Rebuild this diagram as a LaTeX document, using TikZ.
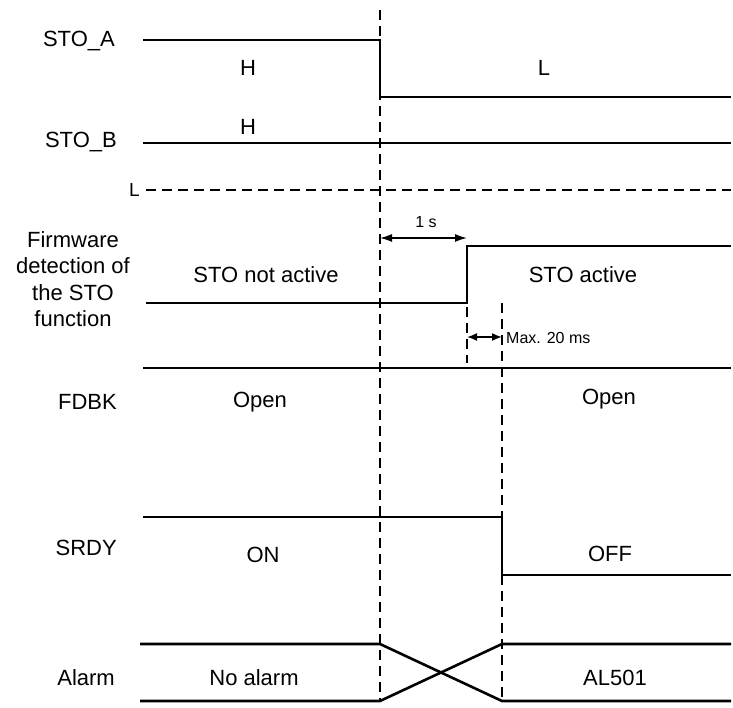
\documentclass[tikz,border=0pt]{standalone}
\usepackage{fontspec}
\setmainfont{Liberation Sans}
\usetikzlibrary{arrows.meta,positioning}
\definecolor{Ink}{HTML}{000000}
\tikzset{
  sigName/.style={anchor=base east,font=\fontsize{22}{26}\selectfont,text=Ink,inner sep=0pt},
  sigState/.style={anchor=base,font=\fontsize{22}{26}\selectfont,text=Ink,inner sep=0pt},
  sigNote/.style={anchor=base,font=\fontsize{16}{19}\selectfont,text=Ink,inner sep=0pt},
  levelName/.style={anchor=base east,font=\fontsize{19}{22}\selectfont,text=Ink,inner sep=0pt},
  wave/.style={draw=Ink,line width=2.6pt,line join=miter},
  timeMark/.style={draw=Ink,line width=1.1pt,dash pattern=on 10pt off 6pt},
  levelMark/.style={draw=Ink,line width=1.4pt,dash pattern=on 10pt off 6pt},
  timeSpan/.style={{Latex[length=12pt,width=8pt]}-{Latex[length=12pt,width=8pt]},draw=Ink,line width=1.6pt},
  shortSpan/.style={timeSpan,{Latex[length=10pt,width=8pt]}-{Latex[length=10pt,width=8pt]}}
}
\begin{document}
\begin{tikzpicture}[x=1pt,y=-1pt]
  \useasboundingbox (0,0) rectangle (733,708);
  % signal names
  \node[sigName] (stoA) at (115,47) {STO\_A};
  \node[sigName] (stoB) at (117,148) {STO\_B};
  \node[levelName] (lowL) at (140,197) {L};
  \node[font=\fontsize{22}{26.3}\selectfont,align=center,inner sep=0pt] (fw) at (73,279) {Firmware\\detection of\\the STO\\function};
  \node[sigName] (fdbk) at (117,409) {FDBK};
  \node[sigName] (srdy) at (117,555) {SRDY};
  \node[sigName] (alarm) at (115,685) {Alarm};
  % states
  \node[sigState] (aHigh) at (248,76) {H};
  \node[sigState] (aLow) at (544,76) {L};
  \node[sigState] (bHigh) at (248,135) {H};
  \node[sigState] (fwOff) at (266,283) {STO not active};
  \node[sigState] (fwOn) at (583,283) {STO active};
  \node[sigState] (fdOpenA) at (260,407) {Open};
  \node[sigState] (fdOpenB) at (609,404) {Open};
  \node[sigState] (srOn) at (263,562) {ON};
  \node[sigState] (srOff) at (610,561) {OFF};
  \node[sigState] (alNone) at (254,685) {No alarm};
  \node[sigState] (alSet) at (615,685) {AL501};
  \node[sigNote] (oneSec) at (426,228) {1 s};
  \node[sigNote,anchor=base west] (maxMs) at (506,343) {Max. 20 ms};
  % waveforms
  \draw[wave] (143,40) -| (380,97) -- (731,97);
  \draw[wave] (143,143) -- (731,143);
  \draw[levelMark] (146,190) -- (731,190);
  \draw[wave] (146,303) -| (467,246) -- (731,246);
  \draw[wave] (143,368) -- (731,368);
  \draw[wave] (143,517) -| (502,575) -- (731,575);
  \draw[wave] (140,644) -- (380,644) -- (502,701) -- (731,701);
  \draw[wave] (140,701) -- (380,701) -- (502,644) -- (731,644);
  % time marks
  \draw[timeMark] (380,10) -- (380,701);
  \draw[timeMark] (502,303) -- (502,701);
  \draw[timeMark] (467,307) -- (467,363);
  \coordinate (t0) at (380,238);
  \coordinate (t1) at (467,238);
  \coordinate (t1b) at (467,337);
  \coordinate (t2) at (502,337);
  \draw[timeSpan] (t0) -- (t1);
  \draw[shortSpan] (t1b) -- (t2);
\end{tikzpicture}
\end{document}
